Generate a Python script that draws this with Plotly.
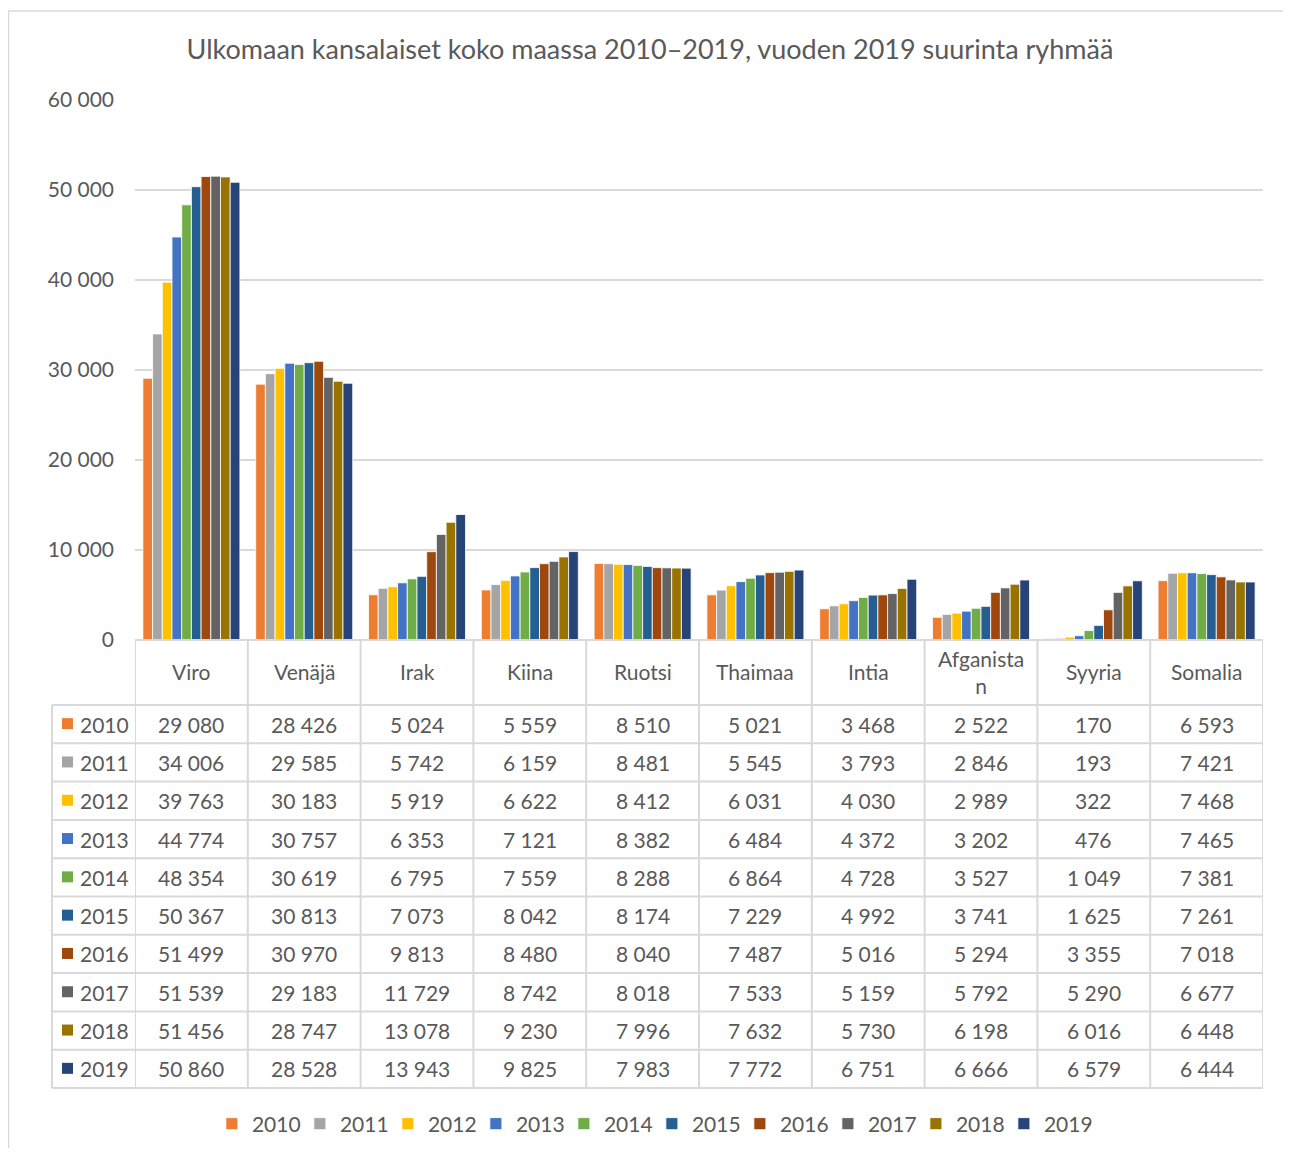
import plotly.graph_objects as go

categories = ["Viro", "Venäjä", "Irak", "Kiina", "Ruotsi", "Thaimaa", "Intia",
              "Afganistan", "Syyria", "Somalia"]
header_labels = ["Viro", "Venäjä", "Irak", "Kiina", "Ruotsi", "Thaimaa", "Intia",
                 "Afganista<br>n", "Syyria", "Somalia"]
years = ["2010", "2011", "2012", "2013", "2014", "2015", "2016", "2017", "2018", "2019"]

v2010 = [29080, 28426, 5024, 5559, 8510, 5021, 3468, 2522, 170, 6593]
v2011 = [34006, 29585, 5742, 6159, 8481, 5545, 3793, 2846, 193, 7421]
v2012 = [39763, 30183, 5919, 6622, 8412, 6031, 4030, 2989, 322, 7468]
v2013 = [44774, 30757, 6353, 7121, 8382, 6484, 4372, 3202, 476, 7465]
v2014 = [48354, 30619, 6795, 7559, 8288, 6864, 4728, 3527, 1049, 7381]
v2015 = [50367, 30813, 7073, 8042, 8174, 7229, 4992, 3741, 1625, 7261]
v2016 = [51499, 30970, 9813, 8480, 8040, 7487, 5016, 5294, 3355, 7018]
v2017 = [51539, 29183, 11729, 8742, 8018, 7533, 5159, 5792, 5290, 6677]
v2018 = [51456, 28747, 13078, 9230, 7996, 7632, 5730, 6198, 6016, 6448]
v2019 = [50860, 28528, 13943, 9825, 7983, 7772, 6751, 6666, 6579, 6444]
series = [v2010, v2011, v2012, v2013, v2014, v2015, v2016, v2017, v2018, v2019]

colors = ["#ED7D31", "#A5A5A5", "#FFC000", "#4472C4", "#70AD47",
          "#255E91", "#9E480E", "#636363", "#997300", "#264478"]

W, H = 1275, 1140
FONT = "Lato, 'Liberation Sans', sans-serif"
TXT = "#595959"
GRID = "#D9D9D9"


def px(x):
    return x / W


def py(y):
    return 1 - y / H


# layout geometry (figure pixels)
plot_l, plot_r = 127, 1255
plot_t, plot_b = 92, 632
tab_l = 44
hdr_b = 697
row_h = 38.3
tab_b = hdr_b + row_h * len(years)

fig = go.Figure()
for yr, vals, c in zip(years, series, colors):
    fig.add_trace(go.Bar(x=categories, y=vals, name=yr,
                         marker=dict(color=c, line=dict(color="white", width=0.8))))

shapes = []
annotations = []

# table horizontal lines
shapes.append(dict(type="line", xref="paper", yref="paper",
                   x0=px(plot_l), x1=px(plot_r), y0=py(plot_b), y1=py(plot_b),
                   line=dict(color=GRID, width=2)))
for k in range(len(years) + 1):
    yy = hdr_b + row_h * k
    shapes.append(dict(type="line", xref="paper", yref="paper",
                       x0=px(tab_l), x1=px(plot_r), y0=py(yy), y1=py(yy),
                       line=dict(color=GRID, width=2)))
# vertical lines
shapes.append(dict(type="line", xref="paper", yref="paper",
                   x0=px(tab_l), x1=px(tab_l), y0=py(hdr_b), y1=py(tab_b),
                   line=dict(color=GRID, width=2)))
for i in range(len(categories) + 1):
    shapes.append(dict(type="line", xref="x", yref="paper",
                       x0=i - 0.5, x1=i - 0.5, y0=py(plot_b), y1=py(tab_b),
                       line=dict(color=GRID, width=2)))

# chart border (top and left edges visible)
shapes.append(dict(type="line", xref="paper", yref="paper",
                   x0=0, x1=1.01, y0=py(3), y1=py(3), line=dict(color=GRID, width=1.5)))
shapes.append(dict(type="line", xref="paper", yref="paper",
                   x0=px(0.5), x1=px(0.5), y0=py(3), y1=-0.01, line=dict(color=GRID, width=1.5)))

# header labels
for cat, lab in zip(categories, header_labels):
    annotations.append(dict(x=cat, xref="x", y=py((plot_b + hdr_b) / 2 - 1), yref="paper",
                            text=lab, showarrow=False, xanchor="center", yanchor="middle",
                            font=dict(family=FONT, size=21, color=TXT)))

# rows
for r, (yr, vals, c) in enumerate(zip(years, series, colors)):
    yc = hdr_b + row_h * (r + 0.5)
    shapes.append(dict(type="rect", xref="paper", yref="paper",
                       x0=px(54), x1=px(65), y0=py(yc - 6), y1=py(yc + 5),
                       fillcolor=c, line=dict(width=0)))
    annotations.append(dict(x=px(70), xref="paper", y=py(yc), yref="paper",
                            text=yr, showarrow=False, xanchor="left", yanchor="middle",
                            font=dict(family=FONT, size=21, color=TXT)))
    for cat, v in zip(categories, vals):
        annotations.append(dict(x=cat, xref="x", y=py(yc), yref="paper",
                                text=f"{v:,}".replace(",", " "), showarrow=False,
                                xanchor="center", yanchor="middle",
                                font=dict(family=FONT, size=21, color=TXT)))

fig.update_layout(
    width=W, height=H, autosize=False,
    margin=dict(l=0, r=0, t=0, b=0),
    paper_bgcolor="white", plot_bgcolor="white",
    separators=", ",
    barmode="group", bargap=0.14, bargroupgap=0,
    title=dict(text="Ulkomaan kansalaiset koko maassa 2010–2019, vuoden 2019 suurinta ryhmää",
               x=0.5035, xanchor="center", y=py(42), yanchor="middle",
               font=dict(family=FONT, size=27, color=TXT)),
    xaxis=dict(domain=[px(plot_l), px(plot_r)], showticklabels=False, showline=False,
               showgrid=False, zeroline=False, ticks="", range=[-0.5, 9.5], fixedrange=True),
    yaxis=dict(domain=[py(plot_b), py(plot_t)], range=[0, 60000], dtick=10000,
               tickformat=",d", showline=False, zeroline=False, showgrid=True,
               gridcolor=GRID, gridwidth=1.5, ticks="", ticklabelstandoff=20,
               automargin=False, tickfont=dict(family=FONT, size=21, color=TXT)),
    legend=dict(orientation="h", x=0.505, xanchor="center", y=py(1116), yanchor="middle",
                font=dict(family=FONT, size=21, color=TXT), itemclick=False,
                entrywidth=43, entrywidthmode="pixels",
                tracegroupgap=0, bgcolor="rgba(0,0,0,0)"),
    shapes=shapes, annotations=annotations,
    showlegend=True,
)

fig.write_html("out.html")
